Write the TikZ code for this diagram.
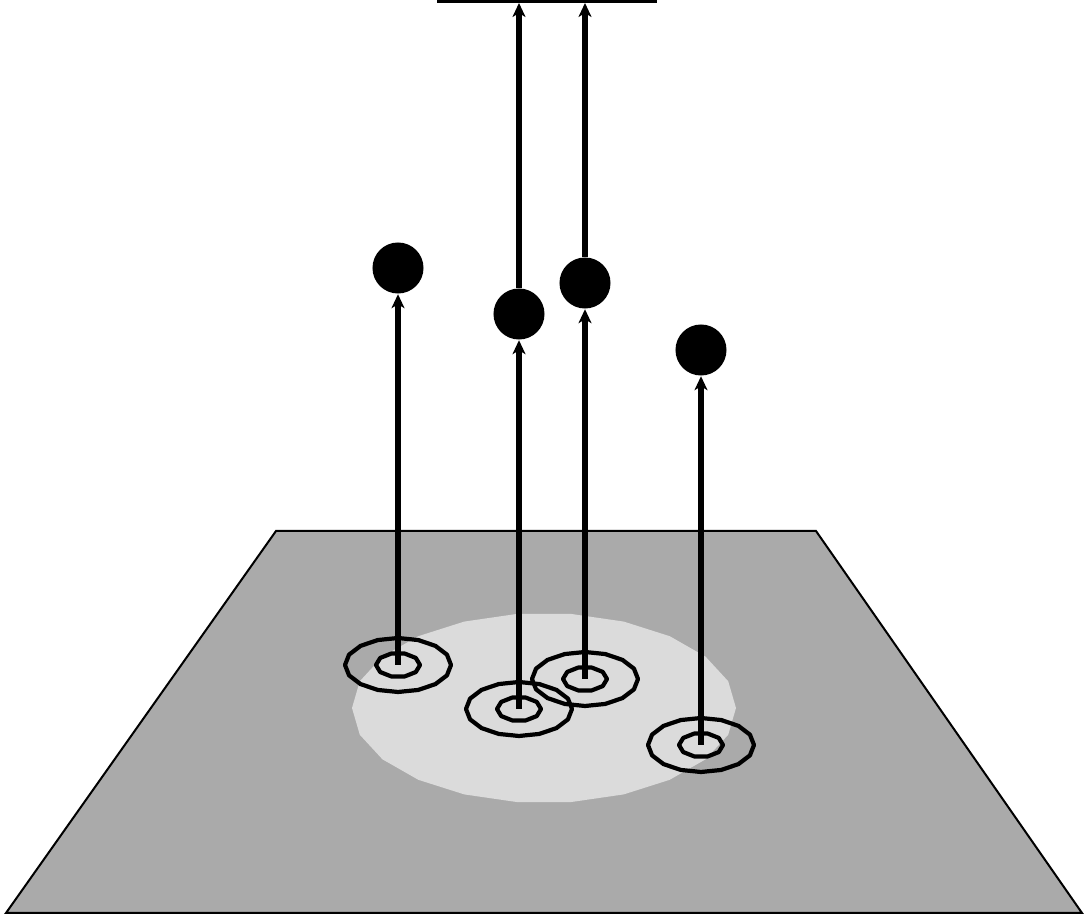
\documentclass[tikz,border=0pt]{standalone}
\usepackage{tikz}
\usetikzlibrary{arrows.meta, positioning}
\definecolor{planegray}{RGB}{170,170,170}
\definecolor{patchgray}{RGB}{219,219,219}
\tikzset{>={Stealth[length=1.4mm,width=1.3mm,inset=0.4mm]}}

\begin{document}
\begin{tikzpicture}[x=0.01cm, y=-0.01cm]
    % Define styles
    \tikzstyle{ball} = [circle, fill=black, inner sep=0pt, minimum size=0.51cm]
    \tikzstyle{ring} = [line width=0.42mm, line join=round]
    \tikzstyle{shaft} = [->, line width=0.55mm]

    \useasboundingbox (0,0) rectangle (1084,916);

    % Ground plane and light patch
    \draw[line width=0.2mm, fill=planegray]
        (276,531) -- (816,531) -- (1082,913) -- (6,913) -- cycle;
    \fill[patchgray, shift={(544,708)}]
        plot[domain=0:360, samples=23, variable=\t] ({192*cos(\t)},{95*sin(\t)}) -- cycle;

    % Rings on the plane
    \foreach \n/\px/\py in {1/398/665, 2/519/709, 3/585/679, 4/701/745} {
        \coordinate (r\n) at (\px,\py);
        \draw[ring, shift={(\px,\py)}]
            plot[domain=0:360, samples=17, variable=\t] ({53*cos(\t)},{27*sin(\t)}) -- cycle;
        \draw[ring, shift={(\px,\py)}]
            plot[domain=0:360, samples=11, variable=\t] ({22*cos(\t)},{12*sin(\t)}) -- cycle;
    }

    % Balls
    \node[ball] (ball1) at (398,268) {};
    \node[ball] (ball2) at (519,314) {};
    \node[ball] (ball3) at (585,283) {};
    \node[ball] (ball4) at (701,350) {};

    % Bar at the top
    \coordinate (barL) at (437,0);
    \coordinate (barR) at (657,0);
    \draw[line width=0.65mm] (barL) -- (barR);
    \coordinate (top2) at (519,3);
    \coordinate (top3) at (585,3);

    % Arrows
    \draw[shaft] (r1) -- (ball1);
    \draw[shaft] (r2) -- (ball2);
    \draw[shaft] (r3) -- (ball3);
    \draw[shaft] (r4) -- (ball4);
    \draw[shaft] (ball2) -- (top2);
    \draw[shaft] (ball3) -- (top3);
\end{tikzpicture}
\end{document}
